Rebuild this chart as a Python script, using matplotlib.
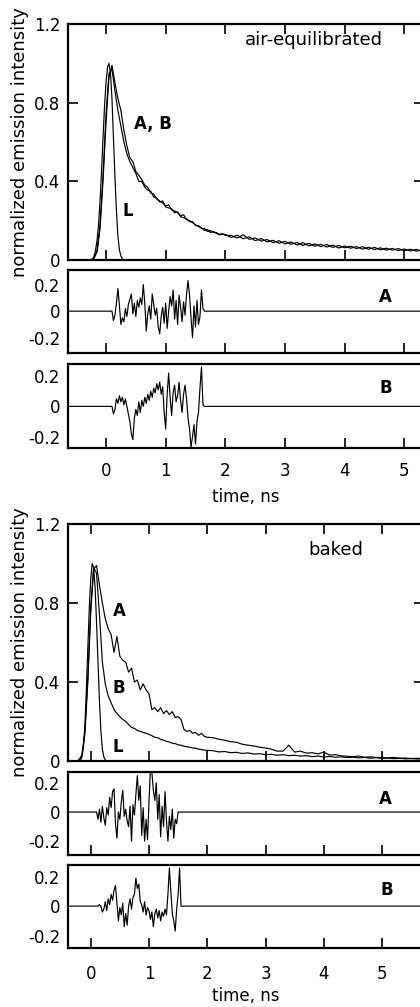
import matplotlib
matplotlib.use('Agg')

import matplotlib.pyplot as plt
import numpy as np

# time grids (ns): 0.05 ns steps over the fast part, 0.1 ns over the tail
t_fast = np.round(np.arange(-0.30, 2.001, 0.05), 3)
t_tail_top = np.round(np.arange(2.1, 5.401, 0.1), 3)
t_tail_bot = np.round(np.arange(2.1, 5.801, 0.1), 3)
t_top = np.concatenate([t_fast, t_tail_top])
t_bot = np.concatenate([t_fast, t_tail_bot])

# instrument response L
t_L_top = np.round(np.arange(-0.25, 0.351, 0.025), 3)
L_top = [0, 0.005, 0.02, 0.05, 0.10, 0.18, 0.30, 0.45, 0.62, 0.78, 0.90, 0.98, 1.0,
         0.95, 0.82, 0.62, 0.42, 0.25, 0.12, 0.05, 0.02, 0.006, 0.002, 0, 0]
t_L_bot = np.round(np.arange(-0.20, 0.301, 0.025), 3)
L_bot = [0, 0.005, 0.02, 0.07, 0.18, 0.36, 0.57, 0.77, 0.92, 1.0, 0.98,
         0.88, 0.70, 0.50, 0.30, 0.15, 0.06, 0.02, 0.005, 0, 0]

# air-equilibrated decays
air_A = [0, 0, 0.01, 0.04, 0.16, 0.40,
         0.70, 0.93, 0.99, 0.90, 0.82, 0.76, 0.66, 0.58, 0.52, 0.50,
         0.45, 0.43, 0.41, 0.38, 0.37, 0.34, 0.335, 0.31, 0.30, 0.29,
         0.275, 0.28, 0.255, 0.25, 0.24, 0.225, 0.23, 0.205, 0.20, 0.19,
         0.18, 0.17, 0.165, 0.15, 0.155, 0.14, 0.145, 0.135, 0.13, 0.135,
         0.125,
         0.125, 0.112, 0.128, 0.105, 0.112, 0.096, 0.104, 0.088, 0.098, 0.082,
         0.092, 0.076, 0.088, 0.072, 0.082, 0.068, 0.079, 0.064, 0.074, 0.062,
         0.07, 0.058, 0.068, 0.055, 0.064, 0.052, 0.06, 0.05, 0.058, 0.047,
         0.055, 0.045, 0.052, 0.043]
air_B = [0, 0, 0.01, 0.05, 0.18, 0.43,
         0.74, 0.95, 0.97, 0.86, 0.76, 0.68, 0.60, 0.54, 0.50, 0.47,
         0.44, 0.40, 0.40, 0.37, 0.355, 0.35, 0.32, 0.315, 0.295, 0.30,
         0.27, 0.265, 0.26, 0.24, 0.245, 0.22, 0.215, 0.21, 0.195, 0.195,
         0.175, 0.175, 0.16, 0.16, 0.145, 0.15, 0.14, 0.14, 0.128, 0.13,
         0.13,
         0.114, 0.126, 0.108, 0.118, 0.098, 0.109, 0.092, 0.10, 0.085, 0.095,
         0.08, 0.089, 0.074, 0.085, 0.07, 0.08, 0.066, 0.076, 0.061, 0.071,
         0.06, 0.068, 0.055, 0.065, 0.053, 0.062, 0.05, 0.059, 0.048, 0.056,
         0.046, 0.054, 0.044, 0.051]

# baked decays
baked_A = [0, 0, 0.005, 0.03, 0.14, 0.40,
           0.75, 0.97, 0.99, 0.89, 0.80, 0.72, 0.67, 0.64, 0.55, 0.63,
           0.53, 0.51, 0.50, 0.45, 0.47, 0.40, 0.41, 0.36, 0.39, 0.36,
           0.34, 0.26, 0.27, 0.25, 0.27, 0.24, 0.255, 0.235, 0.25, 0.22,
           0.225, 0.21, 0.16, 0.15, 0.155, 0.14, 0.145, 0.13, 0.14, 0.125,
           0.12,
           0.118, 0.11, 0.105, 0.098, 0.095, 0.085, 0.08, 0.076, 0.07, 0.066,
           0.06, 0.05, 0.05, 0.08, 0.045, 0.05, 0.04, 0.042, 0.036, 0.045,
           0.03, 0.032, 0.026, 0.024, 0.022, 0.025, 0.019, 0.021, 0.018, 0.017,
           0.016, 0.018, 0.014, 0.015, 0.012, 0.014, 0.011, 0.012]
baked_B = [0, 0, 0.005, 0.03, 0.15, 0.42,
           0.78, 0.98, 0.95, 0.74, 0.50, 0.39, 0.33, 0.295, 0.26, 0.24,
           0.225, 0.21, 0.20, 0.185, 0.17, 0.165, 0.155, 0.15, 0.145, 0.14,
           0.135, 0.128, 0.12, 0.118, 0.11, 0.105, 0.10, 0.096, 0.09, 0.088,
           0.082, 0.08, 0.075, 0.072, 0.07, 0.066, 0.065, 0.06, 0.058, 0.055,
           0.054,
           0.052, 0.046, 0.048, 0.042, 0.044, 0.038, 0.041, 0.035, 0.037, 0.032,
           0.034, 0.029, 0.032, 0.027, 0.029, 0.025, 0.027, 0.022, 0.025, 0.02,
           0.023, 0.019, 0.021, 0.017, 0.019, 0.016, 0.018, 0.014, 0.017, 0.013,
           0.015, 0.012, 0.014, 0.011, 0.013, 0.01, 0.012, 0.009]

# weighted residuals
t_res_top = np.round(np.arange(0.100, 1.651, 0.025), 3)
res_air_A = [0.00, -0.07, -0.03, 0.06, 0.17, 0.04, -0.10, -0.05, -0.08, 0.02,
             -0.04, 0.05, 0.09, 0.13, -0.02, 0.06, -0.04, 0.08, 0.03, 0.10,
             0.05, 0.20, 0.06, -0.15, -0.02, 0.04, -0.06, 0.13, 0.05, -0.03,
             0.02, -0.12, -0.17, -0.04, 0.03, -0.09, 0.06, -0.13, 0.00, 0.11,
             0.04, 0.16, -0.06, 0.08, -0.10, 0.12, 0.03, -0.08, 0.07, -0.03,
             0.13, 0.23, 0.12, -0.05, -0.20, 0.04, -0.12, 0.08, -0.10, -0.04,
             0.16, 0.02, 0.00]
res_air_B = [0.00, -0.05, -0.02, 0.05, 0.02, 0.07, 0.03, 0.06, 0.01, 0.05,
             0.00, -0.05, -0.10, -0.18, -0.22, -0.08, -0.02, -0.06, 0.03, -0.04,
             0.04, 0.00, 0.06, 0.02, 0.08, 0.04, 0.10, 0.06, 0.12, 0.09,
             0.15, 0.11, 0.16, 0.08, 0.13, -0.04, -0.15, 0.08, 0.22, 0.06,
             -0.06, 0.09, 0.14, 0.03, 0.07, 0.16, 0.04, -0.04, 0.08, 0.14,
             0.05, -0.08, -0.15, -0.27, -0.20, -0.12, -0.25, -0.10, -0.04, 0.12,
             0.26, 0.01, 0.00]
t_res_bA = np.round(np.arange(0.100, 1.501, 0.025), 3)
res_baked_A = [0.00, -0.05, 0.02, -0.07, 0.04, -0.04, -0.09, 0.03, -0.02, 0.10,
               0.03, 0.14, 0.16, -0.08, -0.18, 0.00, -0.05, 0.07, 0.15, -0.03,
               0.02, -0.06, -0.10, 0.04, -0.20, 0.05, -0.02, 0.12, 0.25, 0.08,
               0.18, -0.16, 0.03, -0.20, -0.05, -0.19, 0.07, 0.30, 0.27, 0.15,
               0.08, 0.20, -0.05, 0.12, -0.17, 0.04, -0.10, 0.14, -0.06, -0.20,
               -0.03, -0.12, 0.02, -0.18, -0.05, -0.08, 0.00]
t_res_bB = np.round(np.arange(0.100, 1.551, 0.025), 3)
res_baked_B = [0.00, 0.00, 0.01, 0.00, -0.04, -0.02, 0.03, -0.03, 0.05, 0.01,
               0.08, 0.04, 0.11, 0.14, 0.02, -0.10, -0.01, -0.06, 0.02, -0.14,
               -0.05, -0.13, 0.00, 0.05, -0.02, 0.06, 0.08, 0.19, 0.12, 0.15,
               0.03, 0.01, -0.04, 0.03, -0.06, -0.01,
               -0.03, -0.09, -0.04, -0.14, -0.05, -0.02, -0.08, -0.03, -0.10, -0.04,
               -0.07, -0.02, -0.06, 0.08, 0.26, 0.10, -0.05, -0.10, -0.17, -0.02,
               0.08, 0.26, 0.00]

LW = 0.85
SPINE_W = 1.6
W, H = 420, 1007


def px_axes(fig, top, bottom, left=68, right=424):
    return fig.add_axes([left / W, 1 - bottom / H, (right - left) / W, (bottom - top) / H])


def style_main(ax, xlim):
    ax.set_xlim(*xlim)
    ax.set_ylim(0, 1.2)
    ax.set_yticks([0, 0.4, 0.8, 1.2])
    ax.set_yticklabels(['0', '0.4', '0.8', '1.2'])
    ax.set_xticks([0, 1, 2, 3, 4, 5])
    ax.tick_params(axis='both', direction='in', top=True, right=True,
                   length=7.5, width=1.2, labelsize=12, pad=5.5)
    ax.tick_params(axis='x', labelbottom=False)
    for s in ax.spines.values():
        s.set_linewidth(SPINE_W)
    ax.set_ylabel('normalized emission intensity', fontsize=13)
    ax.yaxis.set_label_coords(-0.11, 0.5)


def style_res(ax, xlim, ylim, last, xpad):
    ax.set_xlim(*xlim)
    ax.set_ylim(*ylim)
    ax.set_yticks([-0.2, 0, 0.2])
    ax.set_yticklabels(['-0.2', '0', '0.2'])
    ax.set_xticks([0, 1, 2, 3, 4, 5])
    ax.tick_params(axis='x', direction='in', length=7.5, width=1.2,
                   labelsize=12, pad=xpad, labelbottom=last)
    ax.tick_params(axis='y', direction='in', length=0, labelsize=12, pad=5.5)
    for s in ax.spines.values():
        s.set_linewidth(SPINE_W)


fig = plt.figure(figsize=(W / 100, H / 100), dpi=100)

# ---- air-equilibrated ----
xlim_top = (-0.637, 5.33)
ax1 = px_axes(fig, 24, 260)
ax1.plot(t_L_top, L_top, color='black', lw=LW)
ax1.plot(t_top, air_A, color='black', lw=LW)
ax1.plot(t_top, air_B, color='black', lw=LW)
style_main(ax1, xlim_top)
ax1.text(3.49, 1.12, 'air-equilibrated', fontsize=13, ha='center', va='center')
ax1.text(0.78, 0.69, 'A, B', fontsize=12, fontweight='bold', ha='center', va='center')
ax1.text(0.36, 0.25, 'L', fontsize=12, fontweight='bold', ha='center', va='center')

ax2 = px_axes(fig, 270, 353)
ax2.plot(np.concatenate([[-0.7], t_res_top, [5.9]]), [0] + res_air_A + [0], color='black', lw=LW)
style_res(ax2, xlim_top, (-0.315, 0.31), False, 10)
ax2.text(4.69, 0.105, 'A', fontsize=12, fontweight='bold', ha='center', va='center')

ax3 = px_axes(fig, 364, 448)
ax3.plot(np.concatenate([[-0.7], t_res_top, [5.9]]), [0] + res_air_B + [0], color='black', lw=LW)
style_res(ax3, xlim_top, (-0.275, 0.28), True, 10)
ax3.text(4.69, 0.12, 'B', fontsize=12, fontweight='bold', ha='center', va='center')
ax3.set_xlabel('time, ns', fontsize=12, labelpad=6)

# ---- baked ----
xlim_bot = (-0.39, 5.72)
ax4 = px_axes(fig, 524, 761)
ax4.plot(t_L_bot, L_bot, color='black', lw=LW)
ax4.plot(t_bot, baked_A, color='black', lw=LW)
ax4.plot(t_bot, baked_B, color='black', lw=LW)
style_main(ax4, xlim_bot)
ax4.text(4.2, 1.07, 'baked', fontsize=13, ha='center', va='center')
ax4.text(0.5, 0.76, 'A', fontsize=12, fontweight='bold', ha='center', va='center')
ax4.text(0.49, 0.37, 'B', fontsize=12, fontweight='bold', ha='center', va='center')
ax4.text(0.47, 0.07, 'L', fontsize=12, fontweight='bold', ha='center', va='center')

ax5 = px_axes(fig, 772, 855)
ax5.plot(np.concatenate([[-0.7], t_res_bA, [5.9]]), [0] + res_baked_A + [0], color='black', lw=LW)
style_res(ax5, xlim_bot, (-0.295, 0.275), False, 13)
ax5.text(5.06, 0.09, 'A', fontsize=12, fontweight='bold', ha='center', va='center')

ax6 = px_axes(fig, 865, 948)
ax6.plot(np.concatenate([[-0.7], t_res_bB, [5.9]]), [0] + res_baked_B + [0], color='black', lw=LW)
style_res(ax6, xlim_bot, (-0.285, 0.28), True, 12)
ax6.text(5.08, 0.11, 'B', fontsize=12, fontweight='bold', ha='center', va='center')
ax6.set_xlabel('time, ns', fontsize=12, labelpad=3)

fig.savefig('out.png', dpi=100)
plt.close(fig)
